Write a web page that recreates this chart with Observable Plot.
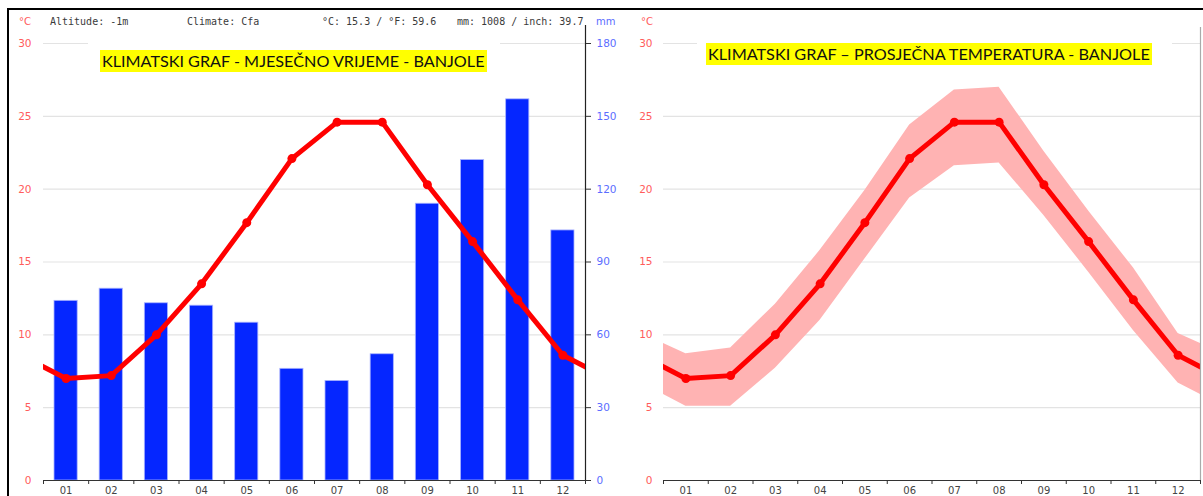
<!DOCTYPE html>
<html><head><meta charset="utf-8">
<script src="https://cdn.jsdelivr.net/npm/d3@7"></script>
<script src="https://cdn.jsdelivr.net/npm/@observablehq/plot@0.6"></script>
<style>
html,body{margin:0;padding:0;background:#fff;}
#wrap{position:relative;width:1203px;height:496px;overflow:hidden;background:#fff;}
#wrap svg{position:absolute;left:0;top:0;}
.t{position:absolute;white-space:nowrap;line-height:1;}
.hdr{font-family:"DejaVu Sans Mono",monospace;font-size:10px;color:#3a3a3a;top:17px;}
.unit{font-family:"DejaVu Sans",sans-serif;font-size:10px;top:17px;}
.box{position:absolute;background:#fff;}
.ttl{font-family:Lato,"Noto Sans",sans-serif;font-size:16px;color:#111;background:#ffff00;padding:3px 2px;display:inline-block;white-space:nowrap;line-height:1;}
.bl{position:absolute;background:#000;}
</style>
</head><body>
<div id="wrap"></div>
<script>
// ---- data ----
const months = ["01","02","03","04","05","06","07","08","09","10","11","12"];
const tempAvg = [7.0, 7.2, 10.0, 13.5, 17.7, 22.1, 24.6, 24.6, 20.3, 16.4, 12.4, 8.6];
const tempMax = [8.7, 9.1, 12.1, 15.8, 19.9, 24.4, 26.8, 27.0, 22.6, 18.5, 14.6, 10.1];
const tempMin = [5.1, 5.1, 7.7, 11.0, 15.2, 19.4, 21.6, 21.8, 18.2, 14.3, 10.3, 6.7];
const precipMm = [74, 79, 73, 72, 65, 46, 41, 52, 114, 132, 157, 103];
const tempTicks = [0, 5, 10, 15, 20, 25, 30];
const mmTicks = [0, 30, 60, 90, 120, 150, 180];
const headerTexts = ["Altitude: -1m", "Climate: Cfa", "°C: 15.3 / °F: 59.6", "mm: 1008 / inch: 39.7"];
const titleLeft = "KLIMATSKI GRAF - MJESEČNO VRIJEME - BANJOLE";
const titleRight = "KLIMATSKI GRAF – PROSJEČNA TEMPERATURA - BANJOLE";

const rows = months.map((m, i) => ({i, xc: i + 0.5, month: m, temp: tempAvg[i], tmax: tempMax[i], tmin: tempMin[i], mm: precipMm[i]}));
// wrap December before January and January after December so the line/band runs to the frame edges
const wrapped = [{...rows[11], xc: -0.5}, ...rows, {...rows[0], xc: 12.5}];

const W = 1203, H = 496;
const wrap = document.getElementById("wrap");
const baseStyle = {background: "transparent", fontFamily: "DejaVu Sans, sans-serif", fontSize: "10.5px", overflow: "visible"};
const RED = "#ff0000", REDTXT = "#ff5c5c", BLUETXT = "#5b6dff", GRID = "#e3e3e3", AX = "#333";

// Left panel: bars (mm)
const barPlot = Plot.plot({
  width: W, height: H, marginLeft: 43, marginRight: 618, marginTop: 43, marginBottom: 16,
  x: {domain: [0, 12], axis: null}, y: {domain: [0, 180], axis: null},
  style: baseStyle,
  marks: [
    Plot.ruleY(mmTicks.filter(d => d > 0), {stroke: GRID, strokeWidth: 1.2}),
    Plot.rectY(rows, {x1: "i", x2: d => d.i + 1, y: "mm", insetLeft: 11, insetRight: 11, fill: "#0526ff", stroke: "#a9b3ff", strokeWidth: 0.8}),
    Plot.ruleY([0], {stroke: AX, strokeWidth: 1.2}),
    Plot.axisX(d3.range(13), {tickSize: 4, tickFormat: () => "", stroke: AX, label: null}),
    Plot.text(rows, {x: "xc", y: 0, text: "month", dy: 10, fill: "#444", fontSize: 10}),
    Plot.ruleX([12], {stroke: "#222", strokeWidth: 1.2, insetTop: -18}),
    Plot.axisY(mmTicks, {anchor: "right", tickSize: 5, tickPadding: 6, stroke: AX, fill: BLUETXT, label: null})
  ]
});

// Left panel: temperature line
const linePlot = Plot.plot({
  width: W, height: H, marginLeft: 43, marginRight: 618, marginTop: 43, marginBottom: 16,
  x: {domain: [0, 12], axis: null}, y: {domain: [0, 30], axis: null},
  style: baseStyle,
  marks: [
    Plot.line(wrapped, {x: "xc", y: "temp", stroke: RED, strokeWidth: 5, clip: true}),
    Plot.dot(rows, {x: "xc", y: "temp", r: 4.5, fill: RED}),
    Plot.axisY(tempTicks, {anchor: "left", tickSize: 0, tickPadding: 12, fill: REDTXT, label: null})
  ]
});

// Right panel: average temperature with min/max band
const rightPlot = Plot.plot({
  width: W, height: H, marginLeft: 663, marginRight: 3, marginTop: 43, marginBottom: 16,
  x: {domain: [0, 12], axis: null}, y: {domain: [0, 30], axis: null},
  style: baseStyle,
  marks: [
    Plot.ruleY(tempTicks.filter(d => d > 0), {stroke: GRID, strokeWidth: 1.2}),
    Plot.areaY(wrapped, {x: "xc", y1: "tmin", y2: "tmax", fill: "#ffb3b3", clip: true}),
    Plot.line(wrapped, {x: "xc", y: "temp", stroke: RED, strokeWidth: 5, clip: true}),
    Plot.dot(rows, {x: "xc", y: "temp", r: 4.5, fill: RED}),
    Plot.ruleY([0], {stroke: AX, strokeWidth: 1.2}),
    Plot.axisX(d3.range(13), {tickSize: 4, tickFormat: () => "", stroke: AX, label: null}),
    Plot.text(rows, {x: "xc", y: 0, text: "month", dy: 10, fill: "#444", fontSize: 10}),
    Plot.ruleX([12], {stroke: "#aaa", strokeWidth: 1.2, insetTop: -16}),
    Plot.axisY(tempTicks, {anchor: "left", tickSize: 0, tickPadding: 11, fill: REDTXT, label: null})
  ]
});

wrap.append(barPlot, linePlot, rightPlot);

function addDiv(cls, text, left, top, style = {}) {
  const d = document.createElement("div");
  d.className = cls;
  if (text != null) d.textContent = text;
  d.style.left = left + "px";
  if (top != null) d.style.top = top + "px";
  Object.assign(d.style, style);
  wrap.append(d);
  return d;
}
// header line
const hdrX = [50, 187, 322, 457];
headerTexts.forEach((t, k) => addDiv("t hdr", t, hdrX[k]));
addDiv("t unit", "°C", 19, null, {color: REDTXT});
addDiv("t unit", "mm", 596, null, {color: BLUETXT});
addDiv("t unit", "°C", 641, null, {color: REDTXT});

// title boxes (white backing hides the top gridline)
function addTitle(text, boxL, boxT, boxW, boxH, textL, textT, targetW) {
  const b = addDiv("box", null, boxL, boxT, {width: boxW + "px", height: boxH + "px"});
  const s = document.createElement("span");
  s.className = "ttl";
  s.textContent = text;
  s.style.position = "absolute";
  s.style.left = (textL - boxL) + "px";
  s.style.top = (textT - boxT) + "px";
  b.append(s);
  const w = s.getBoundingClientRect().width;
  const fs = 16 * (targetW - 4) / (w - 4);
  s.style.fontSize = fs.toFixed(2) + "px";
  const h = s.getBoundingClientRect().height;
  s.style.paddingTop = s.style.paddingBottom = Math.max(0, (22 - (h - 6)) / 2).toFixed(1) + "px";
}
addTitle(titleLeft, 88, 36, 412, 42, 100, 50, 387);
addTitle(titleRight, 697, 30, 475, 42, 706, 43, 446);

// outer border lines
addDiv("bl", null, 7, 8, {width: (W - 7) + "px", height: "2px"});
addDiv("bl", null, 7, 8, {width: "2px", height: (H - 8) + "px"});
</script>
</body></html>
